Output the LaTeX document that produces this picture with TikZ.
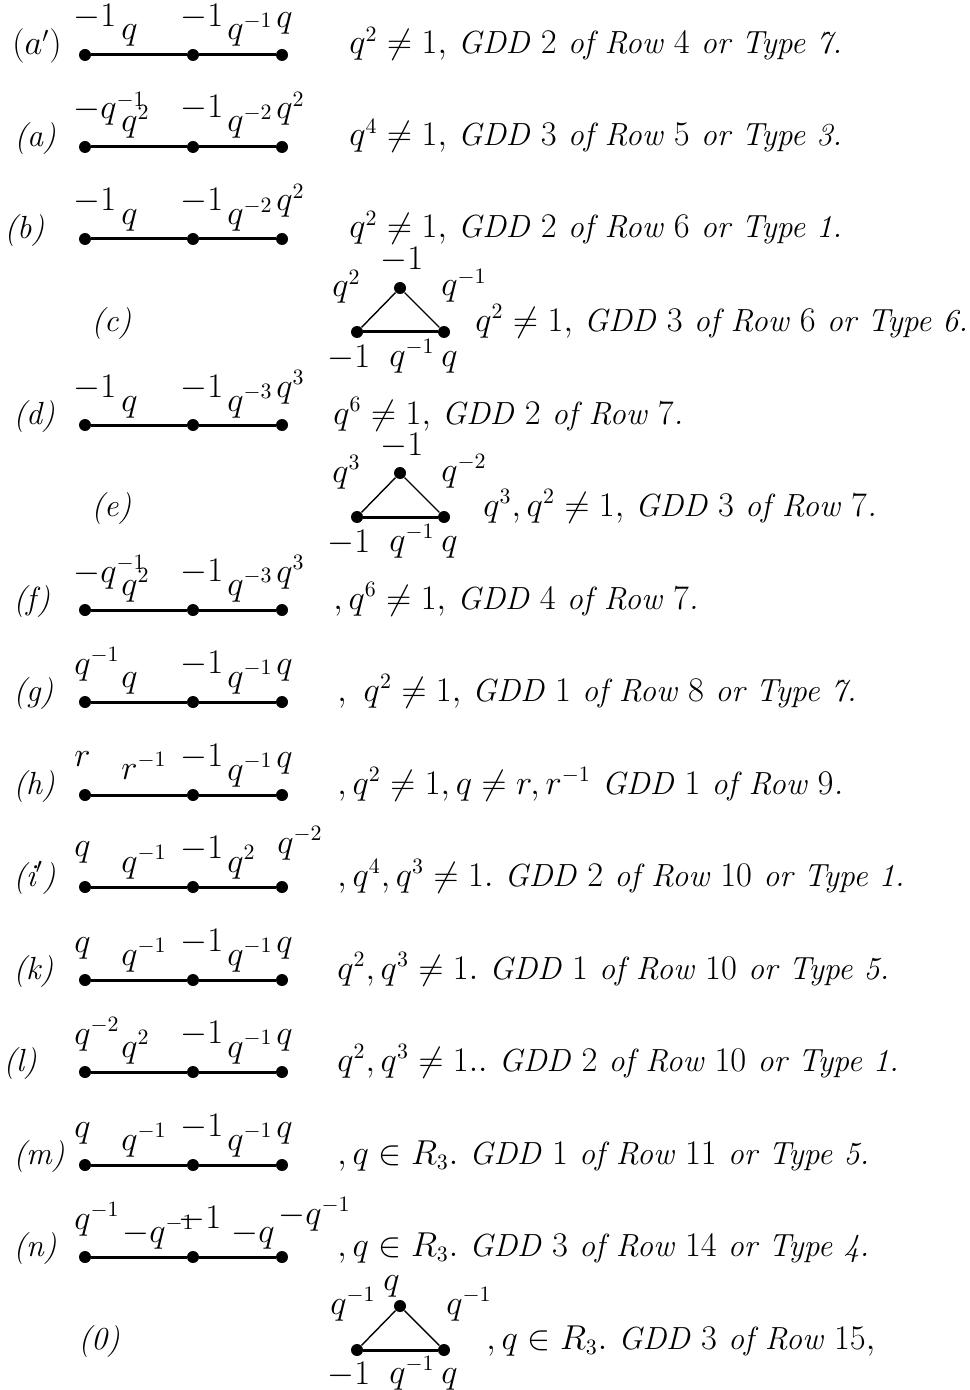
\documentclass[tikz,border=0pt]{standalone}
\usepackage{amsmath,amssymb}
\newcommand\chainrow[2]{%
  \node[dot] (#1v1) at (85,#2) {};
  \node[dot] (#1v2) at (193,#2) {};
  \node[dot] (#1v3) at (282,#2) {};
  \draw[chainedge] (#1v1) -- (#1v2) -- (#1v3);}
\newcommand\trirow[2]{%
  \node[dot] (#1t) at (400,#2-44) {};
  \node[dot] (#1l) at (357,#2) {};
  \node[dot] (#1r) at (444,#2) {};
  \draw[thinedge] (#1l) -- (#1t) -- (#1r);
  \draw[chainedge] (#1l) -- (#1r);}
% name, x, baseline y, math text
\newcommand\lb[4]{\node[lbl] (#1) at (#2,#3) {$#4$};}
\newcommand\tx[4]{\node[lbl] (#1) at (#2,#3) {\itshape #4};}
\begin{document}
\begin{tikzpicture}[x=0.5pt,y=-0.5pt,
  dot/.style={circle,fill=black,inner sep=0pt,minimum size=6pt},
  chainedge/.style={line width=1.5pt},
  thinedge/.style={line width=0.7pt},
  lbl/.style={anchor=base west,inner sep=0pt,font=\fontsize{16}{19}\selectfont},
]
\useasboundingbox (0,0) rectangle (969,1390);
% (a')  Y=55
\lb{apL}{12}{55}{(a')}
\chainrow{ap}{55}
\lb{ap1}{73}{27}{-1}\lb{ape1}{121}{40}{q}\lb{ap2}{180}{27}{-1}\lb{ape2}{227}{40}{q^{-1}}\lb{ap3}{276}{28}{q}
\tx{apC}{349}{54}{$q^2\neq 1,$ GDD $2$ of Row $4$ or Type 7.}
% (a)  Y=147
\tx{aL}{14}{147}{(a)}
\chainrow{a}{147}
\lb{a1}{73}{119}{-q^{-1}}\lb{ae1}{121}{132}{q^2}\lb{a2}{180}{118}{-1}\lb{ae2}{227}{132}{q^{-2}}\lb{a3}{276}{119}{q^2}
\tx{aC}{349}{146}{$q^4\neq 1,$ GDD $3$ of Row $5$ or Type 3.}
% (b)  Y=239
\tx{bL}{4}{239}{(b)}
\chainrow{b}{239}
\lb{b1}{73}{211}{-1}\lb{be1}{121}{225}{q}\lb{b2}{180}{211}{-1}\lb{be2}{227}{225}{q^{-2}}\lb{b3}{276}{211}{q^2}
\tx{bC}{349}{238}{$q^2\neq 1,$ GDD $2$ of Row $6$ or Type 1.}
% (c)  Y=332
\tx{cL}{91}{331}{(c)}
\trirow{c}{332}
\lb{ct}{380}{270}{-1}\lb{cl}{332}{297}{q^2}\lb{cr}{441}{296}{q^{-1}}
\lb{cb1}{327}{367}{-1}\lb{cb2}{389}{366}{q^{-1}}\lb{cb3}{441}{366}{q}
\tx{cC}{475}{331}{$q^2\neq 1,$ GDD $3$ of Row $6$ or Type 6.}
% (d)  Y=425
\tx{dL}{13}{424}{(d)}
\chainrow{d}{425}
\lb{d1}{73}{397}{-1}\lb{de1}{121}{411}{q}\lb{d2}{180}{397}{-1}\lb{de2}{227}{411}{q^{-3}}\lb{d3}{276}{397}{q^3}
\tx{dC}{333}{424}{$q^6\neq 1,$ GDD $2$ of Row $7$.}
% (e)  Y=517
\tx{eL}{91}{516}{(e)}
\trirow{e}{517}
\lb{et}{380}{455}{-1}\lb{el}{332}{482}{q^3}\lb{er}{441}{481}{q^{-2}}
\lb{eb1}{327}{552}{-1}\lb{eb2}{389}{551}{q^{-1}}\lb{eb3}{441}{551}{q}
\tx{eC}{483}{516}{$q^3, q^2\neq 1,$ GDD $3$ of Row $7$.}
% (f)  Y=610
\tx{fL}{13}{609}{(f)}
\chainrow{f}{610}
\lb{f1}{73}{582}{-q^{-1}}\lb{fe1}{121}{595}{q^2}\lb{f2}{180}{581}{-1}\lb{fe2}{227}{595}{q^{-3}}\lb{f3}{276}{582}{q^3}
\tx{fC}{333}{609}{$,q^6\neq 1,$ GDD $4$ of Row $7$.}
% (g)  Y=702
\tx{gL}{13}{701}{(g)}
\chainrow{g}{702}
\lb{g1}{74}{674}{q^{-1}}\lb{ge1}{121}{687}{q}\lb{g2}{180}{673}{-1}\lb{ge2}{227}{687}{q^{-1}}\lb{g3}{276}{674}{q}
\tx{gC}{337}{701}{$,\ q^2\neq 1,$ GDD $1$ of Row $8$ or Type 7.}
% (h)  Y=795
\tx{hL}{13}{794}{(h)}
\chainrow{h}{795}
\lb{h1}{74}{766}{r}\lb{he1}{121}{779}{r^{-1}}\lb{h2}{180}{766}{-1}\lb{he2}{227}{780}{q^{-1}}\lb{h3}{276}{767}{q}
\tx{hC}{337}{794}{$,q^2\neq 1, q\neq r, r^{-1}$\ GDD $1$ of Row $9$.}
% (i')  Y=887
\tx{ipL}{13}{886}{(i$'$)}
\chainrow{ip}{887}
\lb{ip1}{74}{856}{q}\lb{ipe1}{121}{872}{q^{-1}}\lb{ip2}{180}{858}{-1}\lb{ipe2}{227}{872}{q^2}\lb{ip3}{277}{853}{q^{-2}}
\tx{ipC}{337}{886}{$, q^4, q^3\neq 1.$ GDD $2$ of Row $10$ or Type 1.}
% (k)  Y=980
\tx{kL}{13}{979}{(k)}
\chainrow{k}{980}
\lb{k1}{74}{952}{q}\lb{ke1}{121}{965}{q^{-1}}\lb{k2}{180}{951}{-1}\lb{ke2}{227}{965}{q^{-1}}\lb{k3}{276}{952}{q}
\tx{kC}{337}{979}{$q^2, q^3\neq 1.$ GDD $1$ of Row $10$ or Type 5.}
% (l)  Y=1072
\tx{lL}{3}{1071}{(l)}
\chainrow{l}{1072}
\lb{l1}{74}{1044}{q^{-2}}\lb{le1}{121}{1057}{q^2}\lb{l2}{180}{1043}{-1}\lb{le2}{227}{1057}{q^{-1}}\lb{l3}{276}{1044}{q}
\tx{lC}{337}{1071}{$q^2, q^3\neq 1..$ GDD $2$ of Row $10$ or Type 1.}
% (m)  Y=1165
\tx{mL}{13}{1164}{(m)}
\chainrow{m}{1165}
\lb{m1}{74}{1137}{q}\lb{me1}{121}{1150}{q^{-1}}\lb{m2}{180}{1136}{-1}\lb{me2}{227}{1150}{q^{-1}}\lb{m3}{276}{1137}{q}
\tx{mC}{337}{1164}{$, q\in R_3.$ GDD $1$ of Row $11$ or Type 5.}
% (n)  Y=1257
\tx{nL}{13}{1256}{(n)}
\chainrow{n}{1257}
\lb{n1}{74}{1229}{q^{-1}}\lb{ne1}{122}{1242}{-q^{-1}}\lb{n2}{178}{1228}{-1}\lb{ne2}{231}{1242}{-q}\lb{n3}{278}{1224}{-q^{-1}}
\tx{nC}{337}{1256}{$, q\in R_3.$ GDD $3$ of Row $14$ or Type 4.}
% (0)  Y=1350
\tx{oL}{78}{1349}{(0)}
\trirow{o}{1350}
\lb{ot}{383}{1290}{q}\lb{ol}{330}{1314}{q^{-1}}\lb{or}{446}{1314}{q^{-1}}
\lb{ob1}{327}{1384}{-1}\lb{ob2}{389}{1383}{q^{-1}}\lb{ob3}{441}{1383}{q}
\tx{oC}{486}{1349}{$, q\in R_3.$ GDD $3$ of Row $15,$}
\end{tikzpicture}
\end{document}
